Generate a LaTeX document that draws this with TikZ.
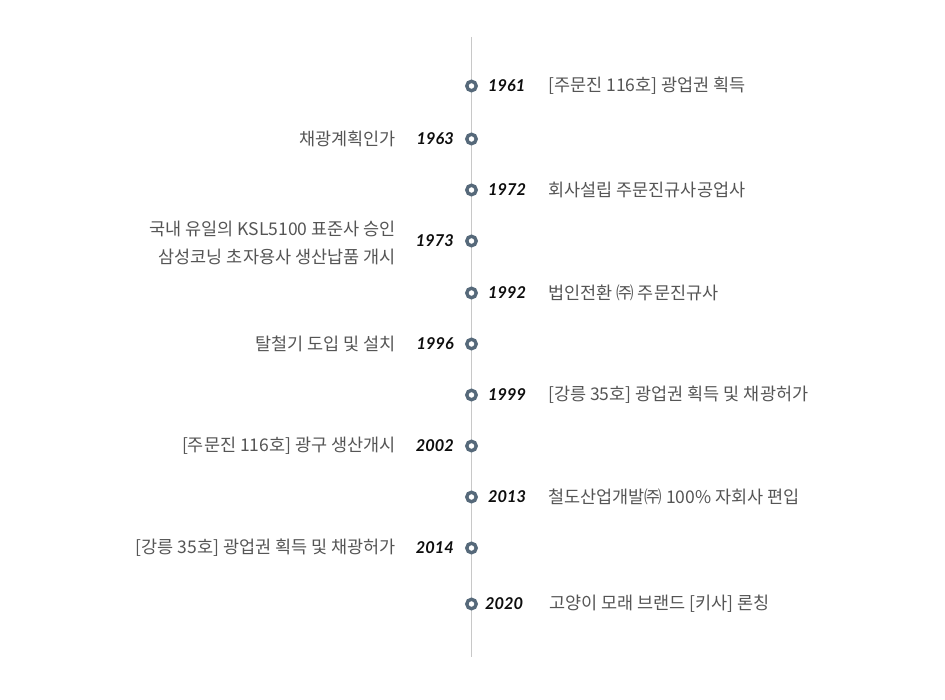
\documentclass[tikz,border=0pt]{standalone}
\usepackage{fontspec}
\usepackage{xcolor}
\setmainfont{Lato}
\newfontfamily\kr{Noto Sans CJK KR}
\definecolor{ringcol}{HTML}{56697A}
\definecolor{axiscol}{HTML}{C8C8C8}
\definecolor{txtcol}{HTML}{555555}

\begin{document}
\begin{tikzpicture}[x=1pt,y=-1pt]
\tikzstyle{every node}+=[inner sep=0pt]
\tikzstyle{ring}=[circle,draw=ringcol,line width=3.4pt,fill=white,minimum size=9.4pt]
\tikzstyle{yr}=[font=\fontsize{16.3}{19}\selectfont\bfseries\itshape,text=black!95]
\tikzstyle{ev}=[font=\kr\fontsize{17.5}{28}\selectfont,text=txtcol]
\useasboundingbox (0,0) rectangle (945,700);
\coordinate (top) at (471.5,37);
\coordinate (bot) at (471.5,657);
\draw [axiscol, line width=1pt] (top) -- (bot);
% 1961
\node [ring] (r1961) at (471.5,86) {};
\node [yr, anchor=west] (y1961) at (488,86) {1961};
\node [ev, anchor=west] (e1961) at (548,86) {[주문진 116호] 광업권 획득};
% 1963
\node [ring] (r1963) at (471.5,139) {};
\node [yr, anchor=east] (y1963) at (454,139) {1963};
\node [ev, anchor=east] (e1963) at (396,139) {채광계획인가};
% 1972
\node [ring] (r1972) at (471.5,190) {};
\node [yr, anchor=west] (y1972) at (488,190) {1972};
\node [ev, anchor=west] (e1972) at (548,190) {회사설립 주문진규사공업사};
% 1973
\node [ring] (r1973) at (471.5,241) {};
\node [yr, anchor=east] (y1973) at (454,241) {1973};
\node [ev, anchor=east, align=right] (e1973) at (396,243) {국내 유일의 KSL5100 표준사 승인\\삼성코닝 초자용사 생산납품 개시};
% 1992
\node [ring] (r1992) at (471.5,293) {};
\node [yr, anchor=west] (y1992) at (488,293) {1992};
\node [ev, anchor=west] (e1992) at (548,293) {법인전환 ㈜ 주문진규사};
% 1996
\node [ring] (r1996) at (471.5,344) {};
\node [yr, anchor=east] (y1996) at (454,344) {1996};
\node [ev, anchor=east] (e1996) at (396,344) {탈철기 도입 및 설치};
% 1999
\node [ring] (r1999) at (471.5,395) {};
\node [yr, anchor=west] (y1999) at (488,395) {1999};
\node [ev, anchor=west] (e1999) at (548,395) {[강릉 35호] 광업권 획득 및 채광허가};
% 2002
\node [ring] (r2002) at (471.5,446) {};
\node [yr, anchor=east] (y2002) at (454,446) {2002};
\node [ev, anchor=east] (e2002) at (396,446) {[주문진 116호] 광구 생산개시};
% 2013
\node [ring] (r2013) at (471.5,497) {};
\node [yr, anchor=west] (y2013) at (488,497) {2013};
\node [ev, anchor=west] (e2013) at (548,497) {철도산업개발㈜ 100\% 자회사 편입};
% 2014
\node [ring] (r2014) at (471.5,548) {};
\node [yr, anchor=east] (y2014) at (454,548) {2014};
\node [ev, anchor=east] (e2014) at (396,548) {[강릉 35호] 광업권 획득 및 채광허가};
% 2020
\node [ring] (r2020) at (471.5,604) {};
\node [yr, anchor=west] (y2020) at (485,604) {2020};
\node [ev, anchor=west] (e2020) at (549,604) {고양이 모래 브랜드 [키사] 론칭};
\end{tikzpicture}
\end{document}
